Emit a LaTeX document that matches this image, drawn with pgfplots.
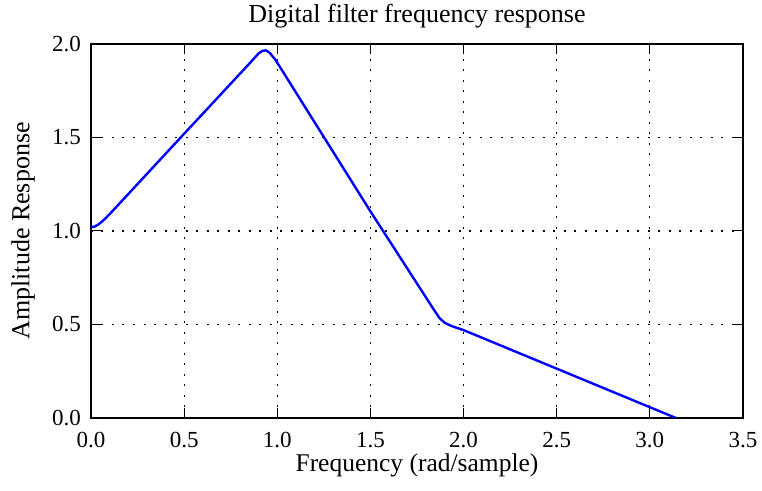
\documentclass[border=0pt]{standalone}
\usepackage{fontspec}
\setmainfont{Liberation Serif}
\usepackage{pgfplots}
\pgfplotsset{compat=1.18}
\begin{document}
\begin{tikzpicture}
\begin{axis}[
    name=ax,
    scale only axis,
    width=652pt, height=374pt,
    xmin=0, xmax=3.5,
    ymin=0, ymax=2.0,
    xtick={0,0.5,1.0,1.5,2.0,2.5,3.0,3.5},
    ytick={0,0.5,1.0,1.5,2.0},
    tick align=inside,
    xtick pos=both, ytick pos=both,
    major tick length=10pt,
    axis line style={line width=1.8pt},
    every tick/.style={black, line width=1pt},
    grid=major,
    grid style={black, line width=1.1pt, dash pattern=on 2pt off 8.5pt},
    /pgf/number format/.cd, fixed, fixed zerofill, precision=1, assume math mode=true,
    /pgfplots/.cd,
    tick label style={font=\fontsize{23}{25}\selectfont},
    xticklabel style={anchor=center, inner sep=0pt, yshift=-22pt},
    yticklabel style={anchor=east, xshift=-10pt, inner sep=0pt},
    title={Digital filter frequency response},
    title style={font=\fontsize{26}{28}\selectfont, at={(axis description cs:0.5,1)}, anchor=center, yshift=22pt},
    xlabel={Frequency (rad/sample)},
    xlabel style={font=\fontsize{25.5}{27}\selectfont, inner sep=0pt, at={(axis description cs:0.5,0)}, anchor=center, yshift=-47pt},
    ylabel={Amplitude Response},
    ylabel style={font=\fontsize{26}{28}\selectfont, inner sep=0pt, at={(axis description cs:-0.1043,0.5)}, anchor=center},
]
\addplot[blue, line width=2.4pt, line join=round] coordinates {
    (0.00,1.020)(0.02,1.024)(0.04,1.035)(0.07,1.060)(0.10,1.090)
    (0.50,1.520)(0.85,1.895)(0.88,1.928)(0.90,1.950)(0.92,1.963)
    (0.94,1.966)(0.96,1.952)(0.99,1.915)(1.02,1.868)(1.50,1.105)
    (1.84,0.580)(1.87,0.535)(1.90,0.508)(1.94,0.490)(2.00,0.470)(3.14,0.000)
};
\end{axis}
\pgfresetboundingbox
\path[use as bounding box] ([xshift=-91pt,yshift=-73pt]ax.south west) rectangle ([xshift=19pt,yshift=44pt]ax.north east);
\end{tikzpicture}
\end{document}
